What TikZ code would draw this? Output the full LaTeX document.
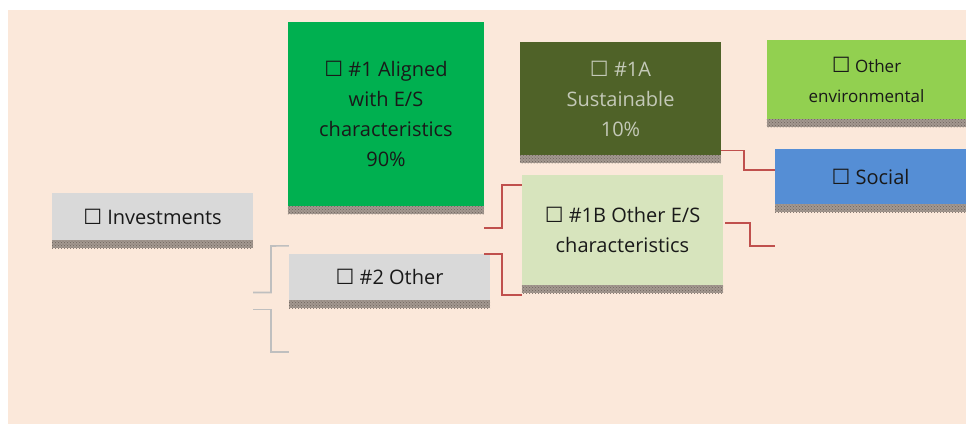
\documentclass[tikz,border=0pt]{standalone}
\usepackage{fontspec}
\setmainfont{Open Sans}
\newfontfamily\symfont{DejaVu Sans}
\usetikzlibrary{patterns,calc,positioning}
\definecolor{bgpeach}{HTML}{FBE8DA}
\definecolor{boxgray}{HTML}{D9D9D9}
\definecolor{alignedgreen}{HTML}{00B050}
\definecolor{sustolive}{HTML}{4F6228}
\definecolor{othergreen}{HTML}{D7E4BD}
\definecolor{envlime}{HTML}{92D050}
\definecolor{socblue}{HTML}{558ED5}
\definecolor{stripbase}{HTML}{A39890}
\definecolor{stripdots}{HTML}{6E635C}
\definecolor{linkred}{HTML}{C0504D}
\definecolor{linkgray}{HTML}{BFBFBF}
\definecolor{susttext}{HTML}{C4C9B8}
\newcommand{\tickbox}{{\symfont\fontsize{21}{21}\selectfont ☐}}
\tikzset{
    box/.style = {rectangle, inner sep=0pt, align=center,
        text=black!90, font=\fontsize{20}{30}\selectfont},
    strip/.style = {fill=stripbase, postaction={pattern=crosshatch dots, pattern color=stripdots}},
    graylink/.style = {draw=linkgray, line width=1.6pt},
    redlink/.style = {draw=linkred, line width=1.4pt}
}

\begin{document}
\begin{tikzpicture}[x=1pt,y=-1pt]
        \useasboundingbox (0,0) rectangle (966,424);
        \fill[bgpeach] (8,10) rectangle (966,424);
        \node [box,fill=boxgray,minimum width=201pt,minimum height=47pt] (inv) at (152.5,216.5) {\tickbox{} Investments};
        \node [box,fill=alignedgreen,minimum width=196pt,minimum height=184pt] (aligned) at (386,114) {\tickbox{} \#1 Aligned\\with E/S\\characteristics\\90\%};
        \node [box,fill=boxgray,minimum width=201pt,minimum height=46pt] (other) at (389.5,277) {\tickbox{} \#2 Other};
        \node [box,fill=sustolive,text=susttext,minimum width=201pt,minimum height=113pt] (sust) at (620.5,98.5) {\tickbox{} \#1A\\Sustainable\\10\%};
        \node [box,fill=othergreen,minimum width=201pt,minimum height=110pt] (otheres) at (622.5,230) {\tickbox{} \#1B Other E/S\\characteristics};
        \node [box,fill=envlime,font=\fontsize{17}{30}\selectfont,minimum width=199pt,minimum height=79pt] (env) at (866.5,79.5) {\tickbox{} Other\\environmental};
        \node [box,fill=socblue,minimum width=191pt,minimum height=55pt] (soc) at (870.5,176.5) {\tickbox{} Social};
        % patterned bars under the boxes
        \foreach \n in {inv,aligned,other,sust,otheres,env,soc}
            \fill[strip] (\n.south west) rectangle ([yshift=-8pt]\n.south east);
        % gray links from Investments
        \coordinate (g1) at ($(inv.east)+(0,76)$);
        \coordinate (g2) at ($(inv.east)+(0,93)$);
        \coordinate (g3) at (289,352);
        \draw[graylink] (g1) -| (271,246) -- ($(other.north west)+(0,-8)$);
        \draw[graylink] (g2) -| (271,352) -- (g3);
        % red links
        \coordinate (r1) at (484,228);
        \coordinate (r2) at ($(other.north east)+(-6,0)$);
        \coordinate (r3) at ($(sust.south east)+(0,-5)$);
        \coordinate (r4) at ($(otheres.east)+(2,-7)$);
        \coordinate (r5) at (775,246);
        \draw[redlink] (r1) -| (502,185) -- (otheres.north west |- 0,185);
        \draw[redlink] (r2) -| (502,295) -- (otheres.south west |- 0,295);
        \draw[redlink] (r3) -| (744,170) -- (soc.west |- 0,170);
        \draw[redlink] (r4) -| (750,246) -- (r5);
\end{tikzpicture}
\end{document}
